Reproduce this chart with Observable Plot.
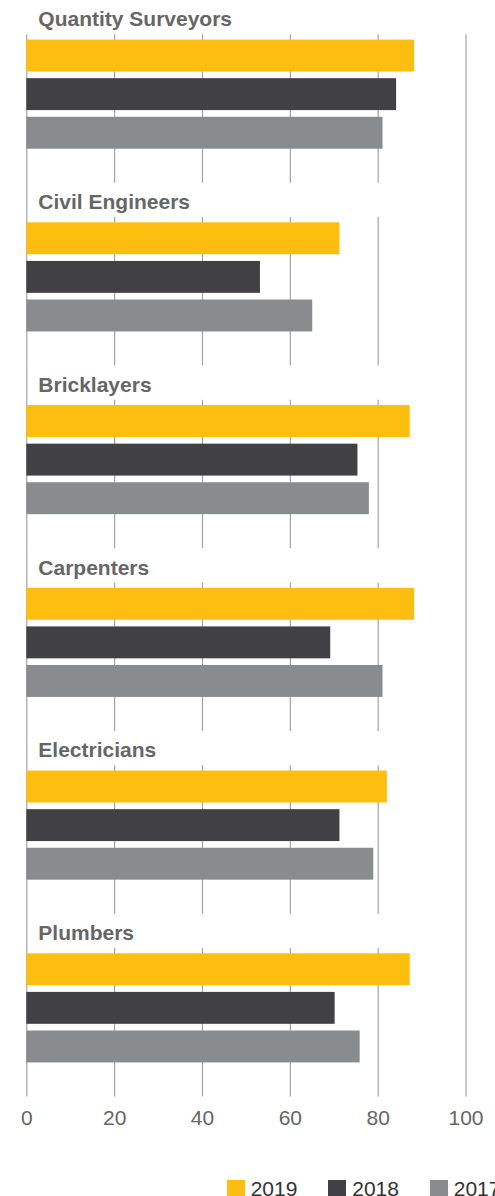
<!DOCTYPE html>
<html>
<head>
<meta charset="utf-8">
<script src="https://cdn.jsdelivr.net/npm/d3@7"></script>
<script src="https://cdn.jsdelivr.net/npm/@observablehq/plot@0.6"></script>
<style>
  html, body { margin: 0; padding: 0; background: #fff; }
  body { width: 495px; overflow: hidden; font-family: "Liberation Sans", Arial, Helvetica, sans-serif; }
  #chart svg { display: block; }
  #legend { display: flex; align-items: center; white-space: nowrap; padding-left: 226.7px; padding-top: 38px; width: 495px; box-sizing: border-box; overflow: hidden; }
  .item { display: flex; align-items: center; margin-right: 30.8px; flex: none; }
  .sw { width: 18px; height: 18px; flex: none; }
  .lab { margin-left: 6px; font-size: 21px; line-height: 1; color: #333; }
</style>
</head>
<body>
<div id="chart"></div>
<div id="legend"></div>
<script>
// ---- data ----
const categories = ["Quantity Surveyors", "Civil Engineers", "Bricklayers", "Carpenters", "Electricians", "Plumbers"];
const years = ["2019", "2018", "2017"];
const values2019 = [88.3, 71.3, 87.3, 88.3, 82.1, 87.3];
const values2018 = [84.2, 53.2, 75.4, 69.2, 71.3, 70.2];
const values2017 = [81.1, 65.1, 78.0, 81.1, 79.0, 75.9];
const colors = ["#FDBE10", "#414042", "#8A8B8C"];
const xTicks = [0, 20, 40, 60, 80, 100];

const series = { "2019": values2019, "2018": values2018, "2017": values2017 };
const data = categories.flatMap((c, i) => years.map(y => ({ category: c, year: y, value: series[y][i] })));
const innerTicks = xTicks.slice(1, -1);
const edgeTicks = [xTicks[0], xTicks[xTicks.length - 1]];
const firstEdges = edgeTicks.map(x => ({ category: categories[0], x }));
const otherEdges = categories.slice(1).flatMap(c => edgeTicks.map(x => ({ category: c, x })));
const labels = categories.map(c => ({ category: c }));

const gridColor = "#a3a3a3";

const chart = Plot.plot({
  width: 495,
  height: 1140,
  marginTop: 34.3,
  marginBottom: 43.6,
  marginLeft: 26.3,
  marginRight: 29.5,
  style: { fontFamily: "'Liberation Sans', Arial, Helvetica, sans-serif", fontSize: "21px", background: "#fff" },
  x: { domain: [0, 100], ticks: xTicks, tickSize: 0, tickPadding: 13.6, label: null },
  y: { domain: years, paddingInner: 0.173, paddingOuter: 0.137, insetBottom: 28.7, round: false, axis: null },
  fy: { domain: categories, paddingInner: 0.188, paddingOuter: 0, round: false, axis: null, label: null },
  color: { domain: years, range: colors },
  marks: [
    Plot.ruleX(categories.flatMap(c => innerTicks.map(x => ({ category: c, x }))), { x: "x", fy: "category", stroke: gridColor, strokeWidth: 1.2 }),
    Plot.ruleX(firstEdges, { x: "x", fy: "category", stroke: gridColor, strokeWidth: 1.2 }),
    Plot.ruleX(otherEdges, { x: "x", fy: "category", stroke: gridColor, strokeWidth: 1.2, insetTop: -34.4 }),
    Plot.barX(data, { x: "value", y: "year", fy: "category", fill: "year" }),
    Plot.text(labels, { fy: "category", text: "category", frameAnchor: "top-left", textAnchor: "start", lineAnchor: "bottom", dx: 11.5, dy: -8.5, fontSize: 21, fontWeight: "bold", fill: "#666" })
  ]
});
chart.querySelectorAll('[aria-label="x-axis tick label"] text, g[aria-label="x-axis tick label"]').forEach(el => el.setAttribute("fill", "#666"));
document.getElementById("chart").appendChild(chart);

const legend = document.getElementById("legend");
years.forEach((y, i) => {
  const item = document.createElement("div");
  item.className = "item";
  const sw = document.createElement("div");
  sw.className = "sw";
  sw.style.background = colors[i];
  const lab = document.createElement("span");
  lab.className = "lab";
  lab.textContent = y;
  item.appendChild(sw);
  item.appendChild(lab);
  legend.appendChild(item);
});
</script>
</body>
</html>
